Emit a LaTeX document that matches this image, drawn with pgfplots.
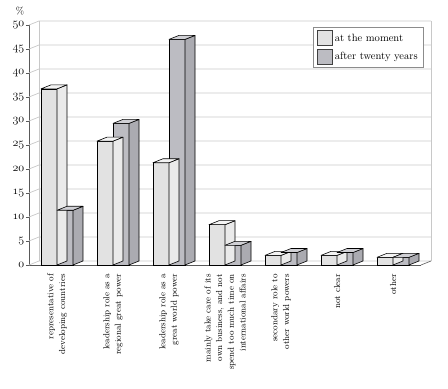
\documentclass[border=0pt]{standalone}
\usepackage{pgfplots}
\pgfplotsset{compat=1.18}
\definecolor{frontL}{HTML}{E2E2E2}
\definecolor{sideL}{HTML}{EAEAEA}
\definecolor{topL}{HTML}{F4F4F4}
\definecolor{frontD}{HTML}{BCBCC2}
\definecolor{sideD}{HTML}{ABABB1}
\definecolor{topD}{HTML}{D0D0D5}
\definecolor{gridc}{HTML}{C8C8C8}
% 3D faces (top and side) of a bar; mark sits at the unshifted group position
\pgfdeclareplotmark{boxL}{%
  \pgfmathsetmacro\boxh{\ry*4.8}%
  \filldraw[fill=sideL,draw=black,line width=0.6bp,line join=round] (0bp,0bp) -- (10bp,4bp) -- (10bp,4bp-\boxh bp) -- (0bp,-\boxh bp) -- cycle;
  \filldraw[fill=topL,draw=black,line width=0.6bp,line join=round] (-16bp,0bp) -- (-6bp,4bp) -- (10bp,4bp) -- (0bp,0bp) -- cycle;
}
\pgfdeclareplotmark{boxD}{%
  \pgfmathsetmacro\boxh{\ry*4.8}%
  \filldraw[fill=sideD,draw=black,line width=0.6bp,line join=round] (16bp,0bp) -- (26bp,4bp) -- (26bp,4bp-\boxh bp) -- (16bp,-\boxh bp) -- cycle;
  \filldraw[fill=topD,draw=black,line width=0.6bp,line join=round] (0bp,0bp) -- (10bp,4bp) -- (26bp,4bp) -- (16bp,0bp) -- cycle;
}
\begin{document}
\begin{tikzpicture}
\begin{axis}[name=ax,
  x=56bp, y=4.8bp,
  xmin=-0.5, xmax=6.5, ymin=0, ymax=50,
  clip=false,
  ybar=0pt, bar width=16bp,
  axis x line*=bottom, axis y line*=left,
  axis line style={-, draw=black!65, line width=0.6bp},
  ytick={0,5,...,50}, tick align=outside,
  ytick style={draw=black!65, line width=0.6bp}, major tick length=3bp,
  yticklabel={\legacyoldstylenums{\pgfmathprintnumber[assume math mode=true]{\tick}}},
  yticklabel style={font=\fontsize{11.5}{12}\selectfont, inner sep=0.5bp, xshift=-1bp},
  xtick={0,...,6}, xtick style={draw=none},
  xticklabels={{representative of\\developing countries},
               {leadership role as a\\regional great power},
               {leadership role as a\\great world power},
               {mainly take care of its\\own business, and not\\spend too much time on\\international affairs},
               {secondary role to\\other world powers},
               {not clear},
               {other}},
  xticklabel style={yshift=-4bp, rotate=90, anchor=east, align=right,
    font=\fontsize{8.8}{11.7}\selectfont, inner sep=2bp},
  legend style={at={(axis cs:6.5,50)}, anchor=north east, xshift=3bp, yshift=-2bp,
    draw=black!45, fill=white, line width=0.7bp,
    font=\fontsize{10.6}{12}\selectfont, row sep=3bp,
    inner xsep=4bp, inner ysep=3bp},
  legend cell align=left,
  legend image code/.code={\draw[#1, draw=black!75, line width=0.6bp] (0bp,-7.5bp) rectangle (15bp,7.5bp);},
]
\pgfplotsinvokeforeach{0,5,...,50}{
  \draw[gridc, line width=0.7bp] (axis cs:-0.5,#1) -- ++(10bp,4bp) -- ++(392bp,0bp);}
\draw[gridc, line width=0.7bp] (axis cs:-0.5,0) ++(10bp,4bp) -- ++(0bp,240bp);
\draw[gridc, line width=0.7bp] (axis cs:6.5,0) ++(10bp,4bp) -- ++(0bp,240bp);
\draw[black!65, line width=0.6bp] (axis cs:6.5,0) -- ++(10bp,4bp);
\node[font=\fontsize{10}{11}\selectfont, inner sep=0pt, anchor=south] at (axis cs:-0.5,50) [xshift=-9bp, yshift=9.5bp] {\%};
\addplot[fill=frontL, draw=black, line width=0.6bp, mark=boxL,
  visualization depends on={rawy \as \ry}]
  coordinates {(0,36.7) (1,25.8) (2,21.3) (3,8.4) (4,2.0) (5,2.0) (6,1.6)};
\addplot[fill=frontD, draw=black, line width=0.6bp, mark=boxD,
  visualization depends on={rawy \as \ry}]
  coordinates {(0,11.4) (1,29.5) (2,47.0) (3,4.1) (4,2.6) (5,2.6) (6,1.6)};
\legend{at the moment, after twenty years}
\end{axis}
\pgfresetboundingbox
\path[use as bounding box] ([shift={(-29bp,-124bp)}]ax.south west) rectangle ([shift={(27bp,25bp)}]ax.north east);
\end{tikzpicture}
\end{document}
